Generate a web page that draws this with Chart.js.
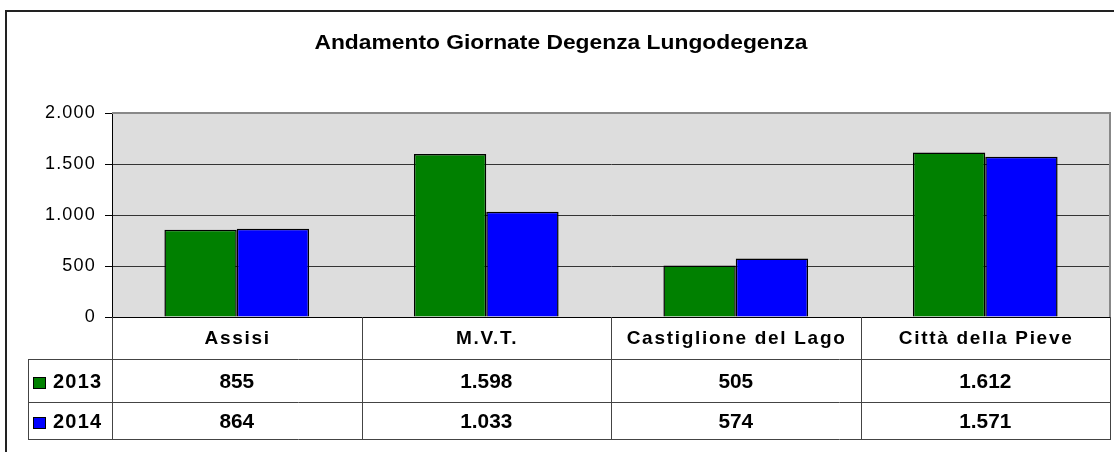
<!DOCTYPE html>
<html>
<head>
<meta charset="utf-8">
<script src="https://cdn.jsdelivr.net/npm/chart.js@4.4.1/dist/chart.umd.min.js"></script>
<style>
html, body { margin: 0; padding: 0; background: #fff; }
#grafico { display: block; }
</style>
</head>
<body>
<canvas id="grafico" width="1114" height="452"></canvas>
<script>
// dati del grafico
const titolo = 'Andamento Giornate Degenza Lungodegenza';
const strutture = ['Assisi', 'M.V.T.', 'Castiglione del Lago', 'Città della Pieve'];
const anni = ['2013', '2014'];
const giornate2013 = [855, 1598, 505, 1612];
const giornate2014 = [864, 1033, 574, 1571];
const colori = ['#008000', '#0000ff'];
const serie = [giornate2013, giornate2014];

const FONT = "'Liberation Sans', Arial, sans-serif";

// separatore delle migliaia all'italiana
const fmt = v => String(v).replace(/\B(?=(\d{3})+(?!\d))/g, '.');

function linea(ctx, x1, y1, x2, y2) {
    ctx.beginPath();
    ctx.moveTo(x1, y1);
    ctx.lineTo(x2, y2);
    ctx.stroke();
}

// testo allargato (sx) e/o spaziato (ls), come nell'originale
function testo(ctx, s, x, y, sx, align, ls) {
    ctx.save();
    ctx.letterSpacing = (ls || 0) + 'px';
    ctx.translate(x + (align === 'center' ? (ls || 0) / 2 : 0), y);
    ctx.scale(sx, 1);
    ctx.textAlign = align;
    ctx.fillText(s, 0, 0);
    ctx.restore();
}

// sfondo, cornice, titolo e tabella dati sotto il grafico
const tabellaDati = {
    id: 'tabellaDati',
    beforeDraw(chart) {
        const { ctx, chartArea: a } = chart;
        ctx.save();
        ctx.fillStyle = '#dddddd';
        ctx.fillRect(a.left, a.top, a.right - a.left, a.bottom - a.top);
        ctx.strokeStyle = '#222';
        ctx.lineWidth = 2;
        ctx.strokeRect(6, 11, 1200, 600);
        ctx.restore();
        ctx.letterSpacing = '1.2px';
    },
    afterDraw(chart) {
        const { ctx, chartArea: a } = chart;
        const x = chart.scales.x;
        ctx.letterSpacing = '0px';
        ctx.save();

        // bordo grigio dell'area del grafico
        ctx.strokeStyle = '#888888';
        ctx.lineWidth = 2;
        linea(ctx, a.left, a.top, a.right + 1, a.top);
        linea(ctx, a.right, a.top, a.right, a.bottom);

        // titolo
        ctx.fillStyle = '#000';
        ctx.font = 'bold 19.5px ' + FONT;
        ctx.textBaseline = 'alphabetic';
        testo(ctx, titolo, 561, 49, 1.17, 'center', 0);

        // griglia della tabella
        const rigaTesta = 359, riga1 = 402, fondo = 439, xLeg = 28;
        const centri = strutture.map((_, i) => x.getPixelForValue(i));
        const bordi = [a.left];
        for (let i = 0; i < centri.length - 1; i++) bordi.push((centri[i] + centri[i + 1]) / 2);
        bordi.push(a.right);

        ctx.strokeStyle = '#444';
        ctx.lineWidth = 1;
        [rigaTesta, riga1, fondo].forEach(y => linea(ctx, xLeg, y + 0.5, a.right, y + 0.5));
        bordi.forEach(b => linea(ctx, Math.round(b) + 0.5, a.bottom, Math.round(b) + 0.5, fondo + 1));
        linea(ctx, xLeg + 0.5, rigaTesta, xLeg + 0.5, fondo + 1);

        // intestazioni
        ctx.font = 'bold 19px ' + FONT;
        strutture.forEach((s, i) => testo(ctx, s, centri[i], 344, 1, 'center', 1.7));

        // valori e legenda
        const basi = [388, 428];
        ctx.font = 'bold 20px ' + FONT;
        serie.forEach((valori, r) => {
            valori.forEach((v, i) => testo(ctx, fmt(v), centri[i], basi[r], 1.04, 'center', 0));
        });
        anni.forEach((anno, r) => {
            ctx.fillStyle = colori[r];
            ctx.fillRect(33, basi[r] - 11, 13, 12);
            ctx.strokeStyle = '#000';
            ctx.strokeRect(33.5, basi[r] - 10.5, 12, 11);
            ctx.fillStyle = '#000';
            testo(ctx, anno, 53, basi[r], 1, 'left', 1.2);
        });

        ctx.restore();
    }
};

new Chart(document.getElementById('grafico'), {
    type: 'bar',
    data: {
        labels: strutture,
        datasets: anni.map((anno, r) => ({
            label: anno,
            data: serie[r],
            backgroundColor: colori[r],
            borderColor: '#000',
            borderWidth: 1.5,
            categoryPercentage: 0.58,
            barPercentage: 1.0
        }))
    },
    options: {
        responsive: false,
        devicePixelRatio: 1,
        animation: false,
        layout: { padding: { top: 113, right: 4, bottom: 135, left: 0 } },
        scales: {
            x: {
                grid: { display: false },
                ticks: { display: false },
                border: { display: true, color: '#000', width: 1 },
                afterFit: s => { s.height = 0; }
            },
            y: {
                min: 0,
                max: 2000,
                ticks: {
                    stepSize: 500,
                    padding: 9,
                    color: '#000',
                    font: { family: FONT, size: 18 },
                    callback: v => fmt(v)
                },
                grid: { color: '#333', lineWidth: 1, tickLength: 7, tickColor: '#000' },
                border: { display: true, color: '#000', width: 1 },
                afterFit: s => { s.width = 112; }
            }
        },
        plugins: {
            legend: { display: false },
            title: { display: false },
            tooltip: { enabled: false }
        }
    },
    plugins: [tabellaDati]
});
</script>
</body>
</html>
